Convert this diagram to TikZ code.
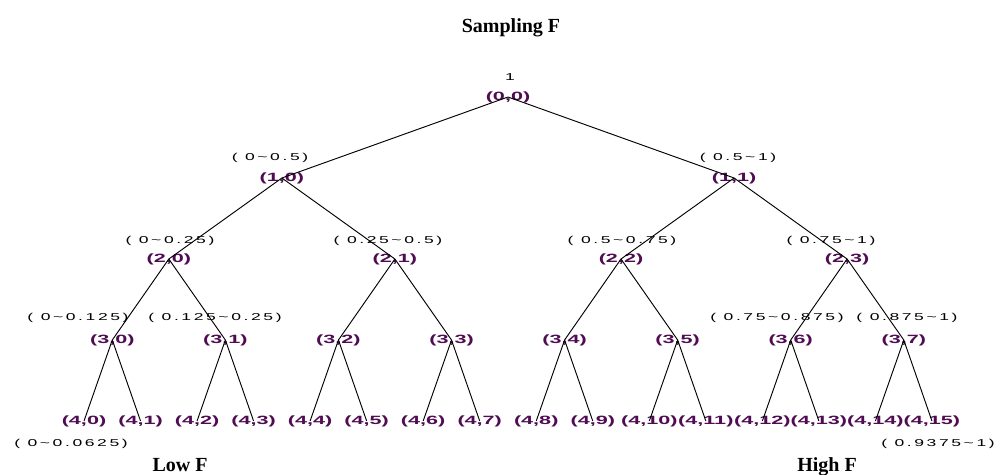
\documentclass[tikz,border=0pt]{standalone}
\usepackage{fontspec}
\setmainfont{Liberation Serif}
\newfontfamily\idfont{Liberation Sans}[FakeStretch=1.8]
\newfontfamily\rngfont{Liberation Sans}[FakeStretch=1.75,LetterSpace=26]
\definecolor{idpurple}{RGB}{80,12,82}
\newcommand{\tld}{\textasciitilde}
\begin{document}
\begin{tikzpicture}[x=0.75pt,y=-0.75pt,
  idn/.style={inner sep=0pt, font=\idfont\bfseries\fontsize{9}{10}\selectfont, text=idpurple},
  rng/.style={inner sep=0pt, font=\rngfont\fontsize{7.5}{9}\selectfont},
  ttl/.style={inner sep=0pt, anchor=base, font=\bfseries\fontsize{15}{18}\selectfont},
  edge/.style={line width=0.7pt}]
\useasboundingbox (0,0) rectangle (1000,475);
% titles
\node[ttl] (title) at (511,32.5) {Sampling F};
\node[ttl] (low) at (180,471) {Low F};
\node[ttl] (high) at (827,471) {High F};
% id nodes
\node[idn] (n0-0) at (508,97) {(0,0)};
\foreach \i in {0,1}
  \node[idn] (n1-\i) at ({281.9+452.2*\i},178) {(1,\i)};
\foreach \i in {0,...,3}
  \node[idn] (n2-\i) at ({168.8+226.1*\i},259) {(2,\i)};
\foreach \i in {0,...,7}
  \node[idn] (n3-\i) at ({112.3+113.07*\i},340) {(3,\i)};
\foreach \i in {0,...,15}
  \node[idn] (n4-\i) at ({84+56.53*\i},421) {(4,\i)};
% range labels
\node[rng] (r0-0) at (510,77) {1};
\node[rng] (r1-0) at (270,157.5) {( 0\tld0.5)};
\node[rng] (r1-1) at (738,157.5) {( 0.5\tld1)};
\node[rng] (r2-0) at (170,241) {( 0\tld0.25)};
\node[rng] (r2-1) at (388,241) {( 0.25\tld0.5)};
\node[rng] (r2-2) at (622,241) {( 0.5\tld0.75)};
\node[rng] (r2-3) at (831,241) {( 0.75\tld1)};
\node[rng] (r3-0) at (78,317.5) {( 0\tld0.125)};
\node[rng] (r3-1) at (215,317.5) {( 0.125\tld0.25)};
\node[rng] (r3-6) at (777,318) {( 0.75\tld0.875)};
\node[rng] (r3-7) at (907,318) {( 0.875\tld1)};
\node[rng] (r4-0) at (71,443.5) {( 0\tld0.0625)};
\node[rng] (r4-15) at (938,443.5) {( 0.9375\tld1)};
% edges
\draw[edge] (n0-0.center) -- (n1-0.center);
\draw[edge] (n0-0.center) -- (n1-1.center);
\foreach \i [evaluate=\i as \a using int(2*\i), evaluate=\i as \b using int(2*\i+1)] in {0,1}{
  \draw[edge] (n1-\i.center) -- (n2-\a.center);
  \draw[edge] (n1-\i.center) -- (n2-\b.center);}
\foreach \i [evaluate=\i as \a using int(2*\i), evaluate=\i as \b using int(2*\i+1)] in {0,...,3}{
  \draw[edge] (n2-\i.center) -- (n3-\a.center);
  \draw[edge] (n2-\i.center) -- (n3-\b.center);}
\foreach \i [evaluate=\i as \a using int(2*\i), evaluate=\i as \b using int(2*\i+1)] in {0,...,7}{
  \draw[edge] (n3-\i.center) -- (n4-\a.center);
  \draw[edge] (n3-\i.center) -- (n4-\b.center);}
\end{tikzpicture}
\end{document}
